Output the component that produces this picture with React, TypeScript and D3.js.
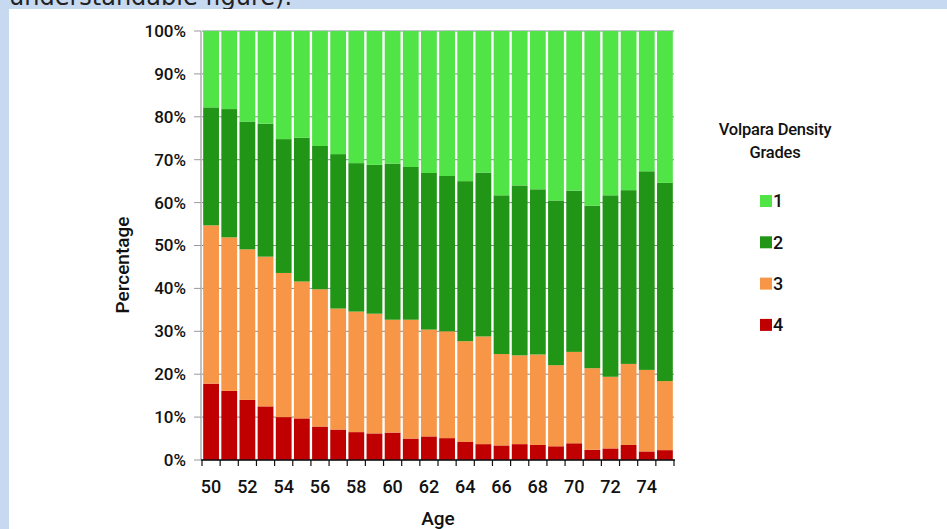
import React from 'react';
import * as d3 from 'd3';

// Volpara density grade share by age (percent of women in each age year)
const ages = d3.range(50, 76).map(String);
const grade1 = [17.8, 18.2, 21.1, 21.6, 25.2, 24.9, 26.8, 28.7, 30.8, 31.2, 30.9, 31.7, 33.1, 33.8, 35.0, 33.0, 38.3, 36.0, 36.9, 39.5, 37.2, 40.7, 38.3, 37.1, 32.7, 35.4];
const grade2 = [27.5, 29.9, 29.8, 31.0, 31.2, 33.5, 33.4, 36.0, 34.6, 34.7, 36.4, 35.6, 36.5, 36.2, 37.3, 38.2, 37.0, 39.6, 38.5, 38.4, 37.6, 37.9, 42.3, 40.5, 46.3, 46.2];
const grade3 = [36.9, 35.8, 35.1, 34.9, 33.6, 31.9, 32.0, 28.2, 28.1, 27.9, 26.3, 27.7, 24.9, 24.9, 23.5, 25.1, 21.3, 20.7, 21.1, 18.9, 21.3, 19.0, 16.7, 18.9, 19.0, 16.1];
const grade4 = [17.8, 16.1, 14.0, 12.5, 10.0, 9.7, 7.8, 7.1, 6.5, 6.2, 6.4, 5.0, 5.5, 5.1, 4.2, 3.7, 3.4, 3.7, 3.5, 3.2, 3.9, 2.4, 2.7, 3.5, 2.0, 2.3];
const grades = ['1', '2', '3', '4'];
const gradeColors = ['#50e446', '#219515', '#f79646', '#c00000'];
const yTicks = d3.range(0, 101, 10);

const W = 947;
const H = 529;
const left = 202;
const right = 674;
const top = 31;
const bottom = 460;
const font = 'Roboto, sans-serif';

export default function App() {
  // one row per age, stacked bottom-up from grade 4 to grade 1
  const rows = ages.map((age, i) => ({ age, '1': grade1[i], '2': grade2[i], '3': grade3[i], '4': grade4[i] }));
  const series = d3.stack().keys(['4', '3', '2', '1'])(rows as any);

  const x = d3.scaleBand().domain(ages).range([left, right]).paddingInner(0.13).paddingOuter(0.065);
  const y = d3.scaleLinear().domain([0, 100]).range([bottom, top]);
  const step = x.step();
  const boundaries = d3.range(ages.length + 1).map((i) => left + i * step);

  return (
    <div style={{ position: 'fixed', left: 0, top: 0, width: W, height: H }}>
      <svg width={W} height={H} style={{ display: 'block' }}>
        <rect width={W} height={H} fill="#c6d9f1" />
        <text x={9} y={5} fontFamily="DejaVu Sans, sans-serif" fontSize={24} fill="#222">
          understandable figure).
        </text>
        <rect x={9} y={9} width={W - 9} height={H - 9} fill="#fff" />

        {/* grid behind the bars */}
        {yTicks.map((t) => (
          <line key={t} x1={left} x2={right} y1={y(t)} y2={y(t)} stroke="#7d8a98" strokeWidth={1} />
        ))}

        {series.map((s) => {
          const idx = grades.indexOf(s.key);
          return (
            <g key={s.key} fill={gradeColors[idx]}>
              {s.map((d: any) => (
                <rect
                  key={d.data.age}
                  x={x(d.data.age)}
                  width={x.bandwidth()}
                  y={y(d[1])}
                  height={y(d[0]) - y(d[1])}
                />
              ))}
            </g>
          );
        })}

        {/* y axis */}
        <line x1={left - 1} x2={left - 1} y1={top} y2={bottom} stroke="#9a9a9a" strokeWidth={1.2} />
        {yTicks.map((t) => (
          <g key={t}>
            <line x1={left - 8} x2={left - 1} y1={y(t)} y2={y(t)} stroke="#9a9a9a" />
            <text x={186} y={y(t)} dy="0.35em" textAnchor="end" fontFamily={font} fontWeight={500} fontSize={17} fill="#111">
              {t}%
            </text>
          </g>
        ))}
        <text
          transform={`translate(${129},${265}) rotate(-90)`}
          textAnchor="middle"
          fontFamily={font}
          fontWeight={500}
          fontSize={19}
          fill="#111"
        >
          Percentage
        </text>

        {/* x axis */}
        <line x1={left - 1} x2={right + 1} y1={bottom} y2={bottom} stroke="#111" strokeWidth={1.3} />
        {boundaries.map((bx, i) => (
          <line key={i} x1={bx} x2={bx} y1={bottom} y2={bottom + 6} stroke="#111" strokeWidth={1.2} />
        ))}
        {ages.filter((a) => +a % 2 === 0).map((a) => (
          <text key={a} x={(x(a) as number) + x.bandwidth() / 2} y={493} textAnchor="middle" fontFamily={font} fontWeight={500} fontSize={18} fill="#111">
            {a}
          </text>
        ))}
        <text x={(left + right) / 2} y={525} textAnchor="middle" fontFamily={font} fontWeight={500} fontSize={19} fill="#111">
          Age
        </text>

        {/* legend */}
        <g fontFamily={font} fill="#111">
          <text x={775} y={135} textAnchor="middle" fontSize={16.5} fontWeight={500} letterSpacing={-0.2}>
            Volpara Density
          </text>
          <text x={775} y={158} textAnchor="middle" fontSize={16.5} fontWeight={500} letterSpacing={-0.2}>
            Grades
          </text>
          {grades.map((g, i) => (
            <g key={g} transform={`translate(760,${195 + i * 41.3})`}>
              <rect width={12} height={12} fill={gradeColors[i]} />
              <text x={13} y={6} dy="0.36em" fontSize={18} fontWeight={500}>
                {g}
              </text>
            </g>
          ))}
        </g>
      </svg>
    </div>
  );
}
